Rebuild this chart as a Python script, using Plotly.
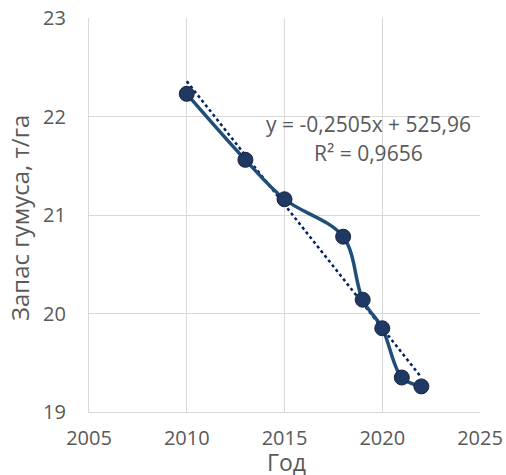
import numpy as np
import plotly.graph_objects as go

years = [2010, 2013, 2015, 2018, 2019, 2020, 2021, 2022]
humus = [22.23, 21.56, 21.16, 20.78, 20.14, 19.85, 19.35, 19.26]
x_ticks = [2005, 2010, 2015, 2020, 2025]
y_ticks = [19, 20, 21, 22, 23]
eq_text = "y = -0,2505x + 525,96"
r2_text = "R² = 0,9656"
x_title = "Год"
y_title = "Запас гумуса, т/га"

slope, intercept = np.polyfit(years, humus, 1)
trend_x = [years[0], years[-1]]
trend_y = [slope * v + intercept for v in trend_x]

FONT = "Open Sans"
GREY = "#595959"
W, H = 506, 475
L, R, T, B = 89, 26, 18, 63
pw, ph = W - L - R, H - T - B

fig = go.Figure()
fig.add_trace(go.Scatter(
    x=trend_x, y=trend_y, mode="lines",
    line=dict(color="#002060", width=2.5, dash="dot"),
    hoverinfo="skip", showlegend=False))
fig.add_trace(go.Scatter(
    x=years, y=humus, mode="lines+markers",
    line=dict(color="#1F4E79", width=3.5, shape="spline", smoothing=1.0),
    marker=dict(size=15, color="#1F3864", line=dict(color="#1a2540", width=1)),
    showlegend=False))

fig.update_layout(
    template="none",
    width=W, height=H,
    margin=dict(l=L, r=R, t=T, b=B),
    paper_bgcolor="white", plot_bgcolor="white",
    font=dict(family=FONT, color=GREY, size=16),
    xaxis=dict(range=[2005, 2025], tickvals=x_ticks, showgrid=True,
               gridcolor="#d9d9d9", gridwidth=1.3, zeroline=False,
               showline=True, linecolor="#d9d9d9", linewidth=1.3,
               tickfont=dict(size=20, color=GREY), ticks="",
               ticklabelstandoff=8, automargin=False),
    yaxis=dict(range=[19, 23], tickvals=y_ticks, showgrid=True,
               gridcolor="#d9d9d9", gridwidth=1.3, zeroline=False,
               showline=True, linecolor="#d9d9d9", linewidth=1.3,
               tickfont=dict(size=20, color=GREY), ticks="",
               ticklabelstandoff=18, automargin=False),
    annotations=[
        dict(x=2019.3, y=21.92, xref="x", yref="y", text=eq_text,
             showarrow=False, font=dict(size=21, color=GREY), xanchor="center"),
        dict(x=2019.3, y=21.63, xref="x", yref="y", text=r2_text,
             showarrow=False, font=dict(size=21, color=GREY), xanchor="center"),
        dict(x=(286 - L) / pw, y=(H - B - 462) / ph, xref="paper", yref="paper",
             text=x_title, showarrow=False, font=dict(size=23, color=GREY),
             xanchor="center", yanchor="middle"),
        dict(x=(19 - L) / pw, y=(H - B - 218) / ph, xref="paper", yref="paper",
             text=y_title, showarrow=False, textangle=-90,
             font=dict(size=24, color=GREY), xanchor="center", yanchor="middle"),
    ],
)

fig.write_html("out.html")
